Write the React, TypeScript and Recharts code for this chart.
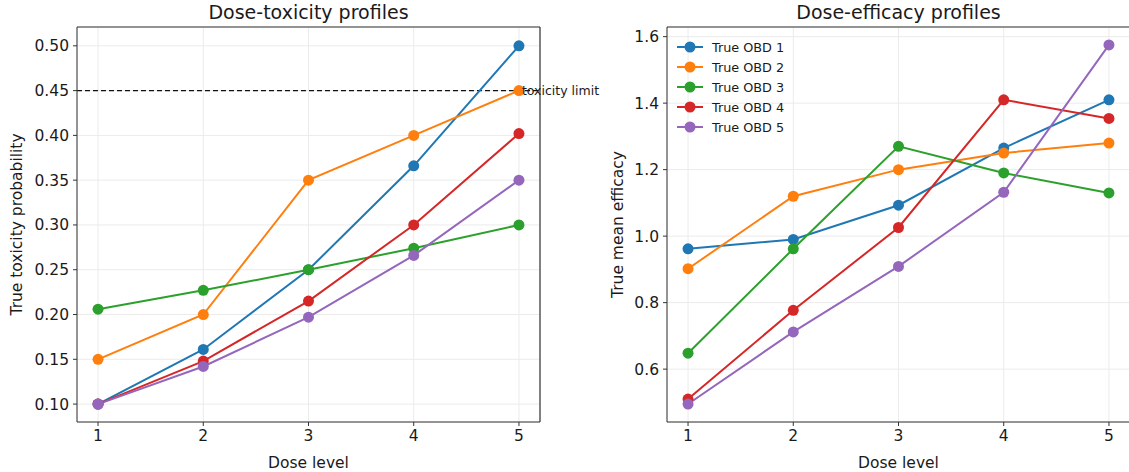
import React from "react"
import {
  LineChart,
  Line,
  XAxis,
  YAxis,
  CartesianGrid,
  ReferenceLine,
  ReferenceDot,
} from "recharts"

// dose levels and tick labels
const doses = [1, 2, 3, 4, 5]
const toxTicks = [0.1, 0.15, 0.2, 0.25, 0.3, 0.35, 0.4, 0.45, 0.5]
const effTicks = [0.6, 0.8, 1.0, 1.2, 1.4, 1.6]
const toxLimit = 0.45

// true toxicity probabilities, one list per scenario
const tox1 = [0.1, 0.161, 0.25, 0.366, 0.5]
const tox2 = [0.15, 0.2, 0.35, 0.4, 0.45]
const tox3 = [0.206, 0.227, 0.25, 0.274, 0.3]
const tox4 = [0.1, 0.148, 0.215, 0.3, 0.402]
const tox5 = [0.1, 0.142, 0.197, 0.266, 0.35]

// true mean efficacy
const eff1 = [0.962, 0.99, 1.093, 1.265, 1.41]
const eff2 = [0.902, 1.12, 1.2, 1.25, 1.28]
const eff3 = [0.648, 0.962, 1.27, 1.19, 1.13]
const eff4 = [0.51, 0.777, 1.026, 1.41, 1.354]
const eff5 = [0.495, 0.712, 0.909, 1.132, 1.575]

const seriesNames = ["True OBD 1", "True OBD 2", "True OBD 3", "True OBD 4", "True OBD 5"]
const colors = ["#1f77b4", "#ff7f0e", "#2ca02c", "#d62728", "#9467bd"]

const FONT = "DejaVu Sans, sans-serif"
const FS = 15.5

const buildRows = (lists: number[][]) =>
  doses.map((d, i) => {
    const row: Record<string, number> = { dose: d }
    lists.forEach((l, k) => {
      row[`s${k}`] = l[i]
    })
    return row
  })

const toxData = buildRows([tox1, tox2, tox3, tox4, tox5])
const effData = buildRows([eff1, eff2, eff3, eff4, eff5])

const tickStyle = { fontSize: FS, fill: "#1a1a1a", fontFamily: FONT }
const xDomain: [number, number] = [0.8, 5.2]
const toxDomain: [number, number] = [0.08, 0.521]
const effDomain: [number, number] = [0.441, 1.629]

function yLabel(text: string, dx: number) {
  return (props: any) => {
    const vb = props.viewBox || { x: 0, y: 0, width: 0, height: 0 }
    const x = vb.x + dx
    const y = vb.y + vb.height / 2
    return (
      <text
        x={x}
        y={y}
        transform={`rotate(-90 ${x} ${y})`}
        textAnchor="middle"
        dominantBaseline="central"
        fontSize={FS}
        fontFamily={FONT}
        fill="#1a1a1a"
      >
        {text}
      </text>
    )
  }
}

function LegendBox() {
  return (
    <div style={{ fontFamily: FONT, fontSize: 12.8, color: "#1a1a1a" }}>
      {seriesNames.map((name, i) => (
        <div key={name} style={{ display: "flex", alignItems: "center", height: 20 }}>
          <svg width={30} height={12} style={{ marginRight: 6 }}>
            <line x1={1} y1={6} x2={27} y2={6} stroke={colors[i]} strokeWidth={2} />
            <circle cx={14} cy={6} r={5.5} fill={colors[i]} />
          </svg>
          <span>{name}</span>
        </div>
      ))}
    </div>
  )
}

function seriesLines() {
  return colors.map((c, k) => (
    <Line
      key={k}
      type="linear"
      dataKey={`s${k}`}
      name={seriesNames[k]}
      stroke={c}
      strokeWidth={2}
      dot={{ r: 5.5, fill: c, stroke: c, strokeWidth: 0 }}
      activeDot={false}
      isAnimationActive={false}
    />
  ))
}

// top and right spines of the box
function frame(yDomain: [number, number]) {
  return [
    <ReferenceLine key="top" y={yDomain[1]} stroke="#333" strokeWidth={1.2} ifOverflow="visible" />,
    <ReferenceLine key="right" x={xDomain[1]} stroke="#333" strokeWidth={1.2} ifOverflow="visible" />,
  ]
}

const titleStyle: React.CSSProperties = {
  position: "absolute",
  top: 1,
  fontFamily: FONT,
  fontSize: 19,
  color: "#1a1a1a",
  textAlign: "center",
  whiteSpace: "nowrap",
}

const xLabel = { value: "Dose level", position: "insideBottom" as const, offset: 4, fontSize: FS, fill: "#1a1a1a", fontFamily: FONT }

export default function App() {
  return (
    <div
      style={{
        position: "fixed",
        left: 0,
        top: 0,
        width: 1129,
        height: 472,
        overflow: "hidden",
        background: "#fff",
      }}
    >
      <div style={{ ...titleStyle, left: 77, width: 463 }}>Dose-toxicity profiles</div>
      <div style={{ ...titleStyle, left: 667, width: 463 }}>Dose-efficacy profiles</div>

      <div style={{ position: "absolute", left: 0, top: 0 }}>
        <LineChart width={620} height={472} data={toxData} margin={{ top: 27, right: 80, bottom: 0, left: 0 }}>
          <CartesianGrid stroke="#ebebeb" strokeWidth={1} />
          <XAxis
            dataKey="dose"
            type="number"
            domain={xDomain}
            ticks={doses}
            allowDataOverflow
            height={50}
            tick={tickStyle}
            tickSize={4}
            tickMargin={4}
            stroke="#333"
            label={xLabel}
          />
          <YAxis
            type="number"
            domain={toxDomain}
            ticks={toxTicks}
            allowDataOverflow
            width={77}
            tick={tickStyle}
            tickSize={4}
            tickMargin={4}
            stroke="#333"
            tickFormatter={(v: number) => v.toFixed(2)}
            label={{ content: yLabel("True toxicity probability", 17) }}
          />
          {frame(toxDomain)}
          <ReferenceLine y={toxLimit} stroke="#111" strokeDasharray="5 3" strokeWidth={1.3} />
          {seriesLines()}
          <ReferenceDot
            x={doses[4]}
            y={toxLimit}
            r={0}
            fill="none"
            stroke="none"
            ifOverflow="visible"
            label={{ value: "toxicity limit", position: "right", offset: 3, fontSize: 12.5, fill: "#1a1a1a", fontFamily: FONT }}
          />
        </LineChart>
      </div>

      <div style={{ position: "absolute", left: 560, top: 0 }}>
        <LineChart width={580} height={472} data={effData} margin={{ top: 27, right: 10, bottom: 0, left: 0 }}>
          <CartesianGrid stroke="#ebebeb" strokeWidth={1} />
          <XAxis
            dataKey="dose"
            type="number"
            domain={xDomain}
            ticks={doses}
            allowDataOverflow
            height={50}
            tick={tickStyle}
            tickSize={4}
            tickMargin={4}
            stroke="#333"
            label={xLabel}
          />
          <YAxis
            type="number"
            domain={effDomain}
            ticks={effTicks}
            allowDataOverflow
            width={107}
            tick={tickStyle}
            tickSize={4}
            tickMargin={4}
            stroke="#333"
            tickFormatter={(v: number) => v.toFixed(1)}
            label={{ content: yLabel("True mean efficacy", 58) }}
          />
          {frame(effDomain)}
          {seriesLines()}
        </LineChart>
      </div>

      <div style={{ position: "absolute", left: 676, top: 37 }}>
        <LegendBox />
      </div>
    </div>
  )
}
